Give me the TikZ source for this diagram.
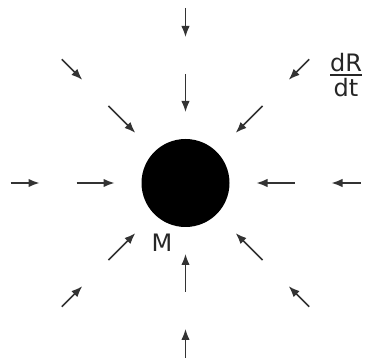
\documentclass[tikz,border=0pt]{standalone}
\usepackage{fontspec}
\setmainfont{DejaVu Sans}
\usepackage{amsmath}
\usetikzlibrary{arrows.meta}
\newcommand{\bigtxt}[1]{\text{\fontsize{24}{28}\selectfont #1}}
\begin{document}
\begin{tikzpicture}[x=1pt,y=-1pt,
  inflow/.style={draw=black!80, line width=1.6pt, -{Latex[length=11pt,width=8.5pt]}},
  lbl/.style={font=\fontsize{24}{28}\selectfont, inner sep=0pt, text=black!85}]
\useasboundingbox (0,0) rectangle (365,358);
\node[circle, fill=black, minimum size=88pt, inner sep=0pt] (M) at (185.5,183) {};
\foreach \a in {0,45,...,315} {
  \coordinate (os\a) at ([shift={(\a:175)}]M.center);
  \coordinate (oe\a) at ([shift={(\a:146)}]M.center);
  \coordinate (is\a) at ([shift={(\a:109)}]M.center);
  \coordinate (ie\a) at ([shift={(\a:71)}]M.center);
  \draw[inflow] (os\a) -- (oe\a);
  \draw[inflow] (is\a) -- (ie\a);
}
\node[lbl] (mlabel) at (162,243) {M};
\node[lbl] (rate) at (346,75) {$\genfrac{}{}{1.8pt}{1}{\bigtxt{dR}}{\bigtxt{dt}}$};
\end{tikzpicture}
\end{document}
